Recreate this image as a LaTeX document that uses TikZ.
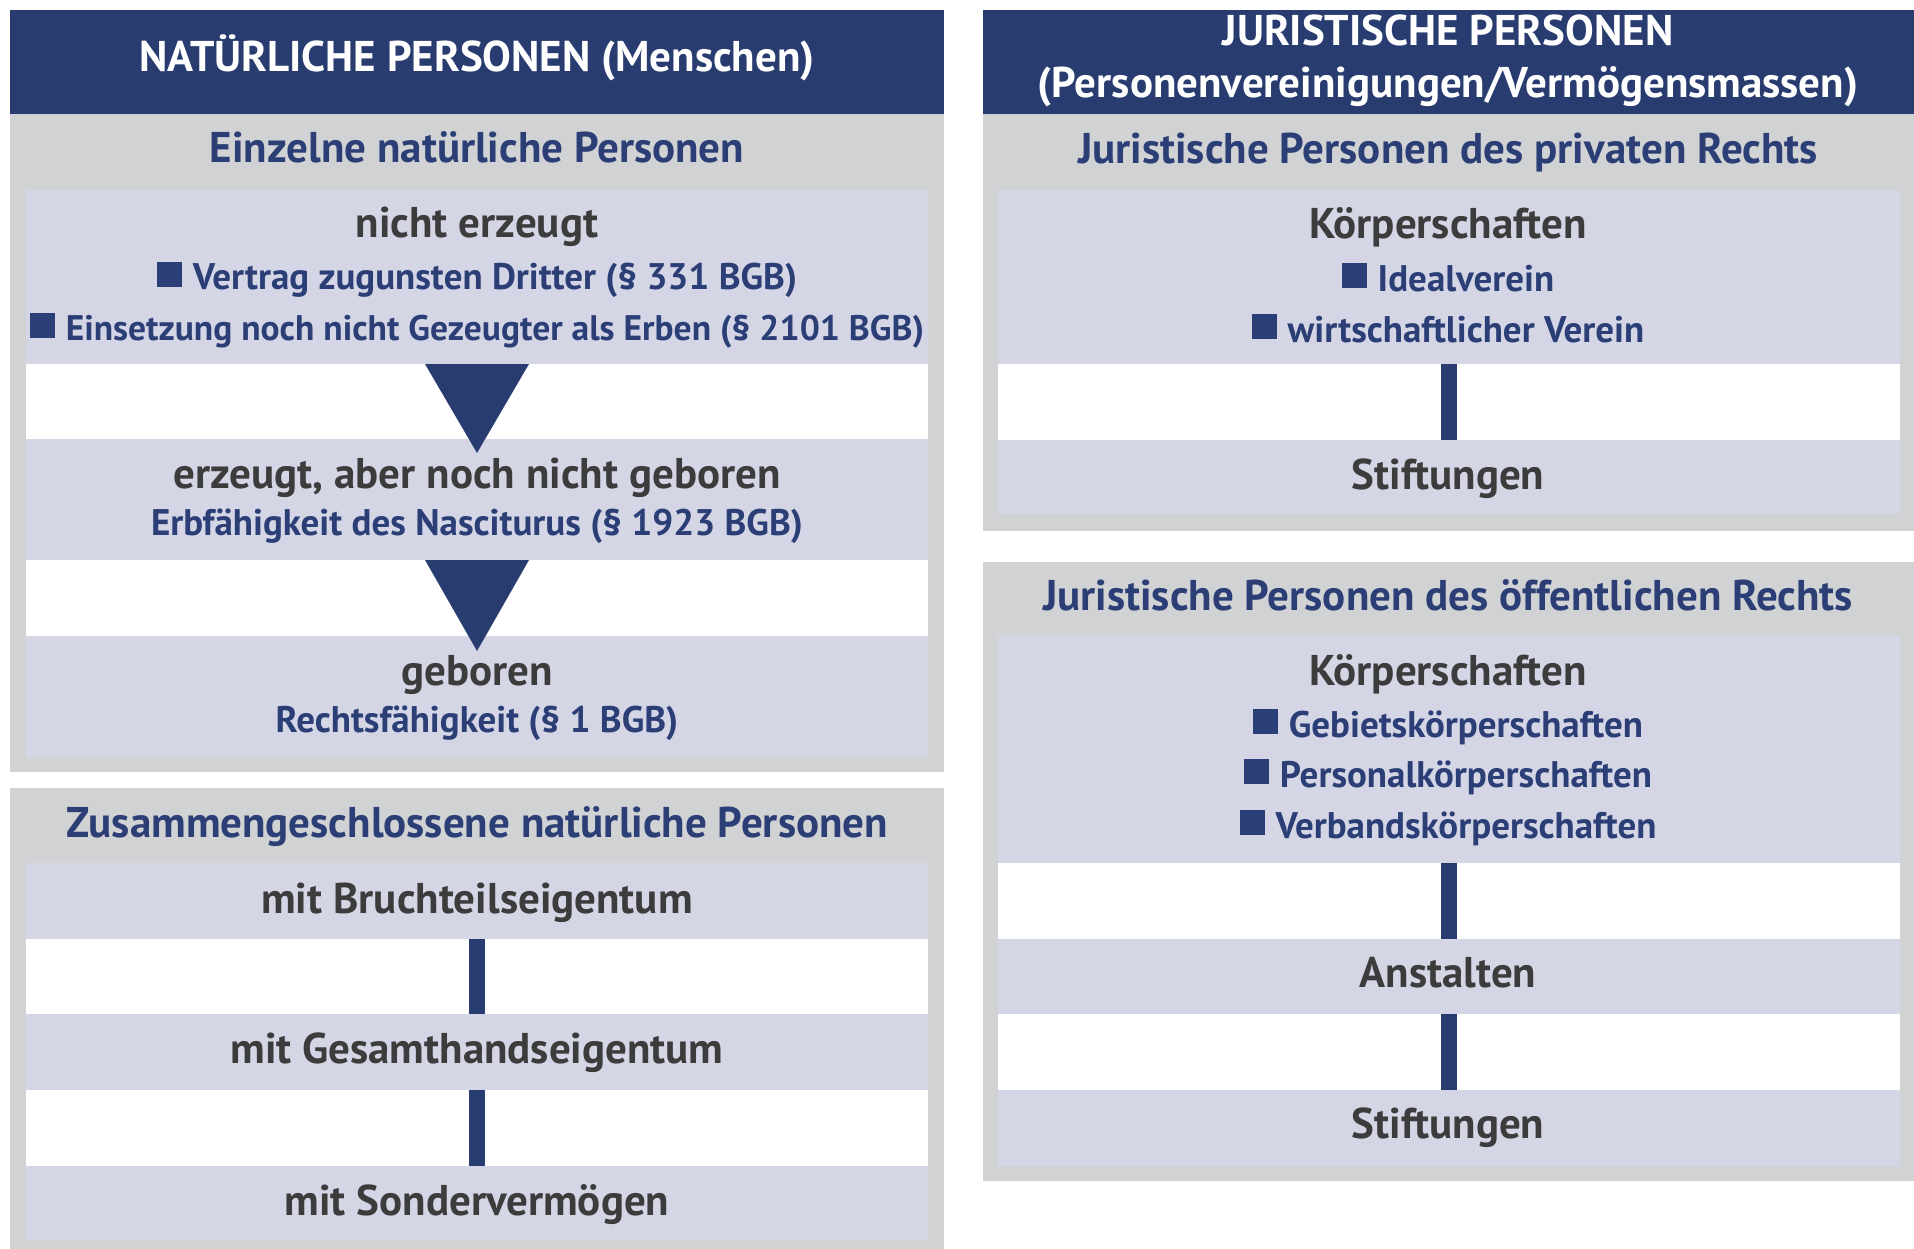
\documentclass[tikz,border=0pt]{standalone}
\usepackage{fontspec}
\setmainfont{PT Sans}
\definecolor{hdr}{HTML}{283C70}
\definecolor{pgray}{HTML}{D1D2D4}
\definecolor{lav}{HTML}{D4D6E6}
\definecolor{tgray}{HTML}{3C3C3C}
\definecolor{tblue}{HTML}{2B3E76}
\newcommand{\bsq}{\raisebox{3pt}{\rule{25pt}{25pt}}\hspace{11pt}}
\tikzset{
  area/.style={inner sep=0, outer sep=0, anchor=north west},
  hdrbox/.style={area, fill=hdr},
  panelbox/.style={area, fill=pgray},
  lavbox/.style={area, fill=lav},
  gapbox/.style={area, fill=white},
  hdrtxt/.style={anchor=base, inner sep=0, text=white, font=\bfseries\fontsize{43}{50}\selectfont},
  titletxt/.style={anchor=base, inner sep=0, text=tblue, font=\bfseries\fontsize{43}{50}\selectfont},
  maintxt/.style={anchor=base, inner sep=0, text=tgray, font=\bfseries\fontsize{43}{50}\selectfont},
  bultxt/.style={anchor=base, inner sep=0, text=tblue, font=\bfseries\fontsize{37}{42}\selectfont},
  bultxtsm/.style={anchor=base, inner sep=0, text=tblue, font=\bfseries\fontsize{35.5}{42}\selectfont},
  bar/.style={draw=hdr, line width=16pt},
  tri/.style={fill=hdr}
}
\begin{document}
\begin{tikzpicture}[x=1pt,y=-1pt]
\useasboundingbox (0,0) rectangle (1914,1249);
% ---------- left column ----------
\node[hdrbox, minimum width=934pt, minimum height=104pt] (hL) at (10,10) {};
\node[panelbox, minimum width=934pt, minimum height=658pt] (pL1) at (10,114) {};
\node[gapbox, minimum width=902pt, minimum height=567pt] (gL1) at (26,190) {};
\node[lavbox, minimum width=902pt, minimum height=174pt] (L1a) at (26,190) {};
\node[lavbox, minimum width=902pt, minimum height=121pt] (L1b) at (26,439) {};
\node[lavbox, minimum width=902pt, minimum height=121pt] (L1c) at (26,636) {};
\node[panelbox, minimum width=934pt, minimum height=461pt] (pL2) at (10,788) {};
\node[gapbox, minimum width=902pt, minimum height=377pt] (gL2) at (26,863) {};
\node[lavbox, minimum width=902pt, minimum height=76pt] (L2a) at (26,863) {};
\node[lavbox, minimum width=902pt, minimum height=76pt] (L2b) at (26,1014) {};
\node[lavbox, minimum width=902pt, minimum height=74pt] (L2c) at (26,1166) {};
% connectors left
\fill[tri] ([xshift=-52pt]L1a.south) -- ([xshift=52pt]L1a.south) -- ([yshift=-89pt]L1a.south) -- cycle;
\fill[tri] ([xshift=-52pt]L1b.south) -- ([xshift=52pt]L1b.south) -- ([yshift=-91pt]L1b.south) -- cycle;
\draw[bar] (L2a.south) -- (L2b.north);
\draw[bar] (L2b.south) -- (L2c.north);
% texts left
\node[hdrtxt] (thL) at (477,72) {NATÜRLICHE PERSONEN (Menschen)};
\node[titletxt] (tL1) at (477,163) {Einzelne natürliche Personen};
\node[maintxt] (ne) at (477,238) {nicht erzeugt};
\node[bultxt] (ne1) at (477,290) {\bsq Vertrag zugunsten Dritter (§ 331 BGB)};
\node[bultxtsm] (ne2) at (477,341) {\bsq Einsetzung noch nicht Gezeugter als Erben (§ 2101 BGB)};
\node[maintxt] (eg) at (477,488) {erzeugt, aber noch nicht geboren};
\node[bultxt] (eg1) at (477,535) {Erbfähigkeit des Nasciturus (§ 1923 BGB)};
\node[maintxt] (gb) at (477,685) {geboren};
\node[bultxt] (gb1) at (477,732) {Rechtsfähigkeit (§ 1 BGB)};
\node[titletxt] (tL2) at (477,837) {Zusammengeschlossene natürliche Personen};
\node[maintxt] (mb) at (477,913) {mit Bruchteilseigentum};
\node[maintxt] (mg) at (477,1063) {mit Gesamthandseigentum};
\node[maintxt] (ms) at (477,1215) {mit Sondervermögen};
% ---------- right column ----------
\node[hdrbox, minimum width=931pt, minimum height=104pt] (hR) at (983,10) {};
\node[panelbox, minimum width=931pt, minimum height=417pt] (pR1) at (983,114) {};
\node[gapbox, minimum width=902pt, minimum height=324pt] (gR1) at (998,190) {};
\node[lavbox, minimum width=902pt, minimum height=174pt] (R1a) at (998,190) {};
\node[lavbox, minimum width=902pt, minimum height=74pt] (R1b) at (998,440) {};
\node[panelbox, minimum width=931pt, minimum height=619pt] (pR2) at (983,562) {};
\node[gapbox, minimum width=902pt, minimum height=530pt] (gR2) at (998,636) {};
\node[lavbox, minimum width=902pt, minimum height=227pt] (R2a) at (998,636) {};
\node[lavbox, minimum width=902pt, minimum height=75pt] (R2b) at (998,939) {};
\node[lavbox, minimum width=902pt, minimum height=76pt] (R2c) at (998,1090) {};
\draw[bar] (R1a.south) -- (R1b.north);
\draw[bar] (R2a.south) -- (R2b.north);
\draw[bar] (R2b.south) -- (R2c.north);
\node[hdrtxt] (thR1) at (1448,46) {JURISTISCHE PERSONEN};
\node[hdrtxt] (thR2) at (1448,98) {(Personenvereinigungen/Vermögensmassen)};
\node[titletxt] (tR1) at (1448,164) {Juristische Personen des privaten Rechts};
\node[maintxt] (k1) at (1448,239) {Körperschaften};
\node[bultxt] (k1a) at (1448,291) {\bsq Idealverein};
\node[bultxt] (k1b) at (1448,342) {\bsq wirtschaftlicher Verein};
\node[maintxt] (s1) at (1448,489) {Stiftungen};
\node[titletxt] (tR2) at (1448,610) {Juristische Personen des öffentlichen Rechts};
\node[maintxt] (k2) at (1448,685) {Körperschaften};
\node[bultxt] (k2a) at (1448,737) {\bsq Gebietskörperschaften};
\node[bultxt] (k2b) at (1448,787) {\bsq Personalkörperschaften};
\node[bultxt] (k2c) at (1448,838) {\bsq Verbandskörperschaften};
\node[maintxt] (an) at (1448,987) {Anstalten};
\node[maintxt] (s2) at (1448,1138) {Stiftungen};
\end{tikzpicture}
\end{document}
